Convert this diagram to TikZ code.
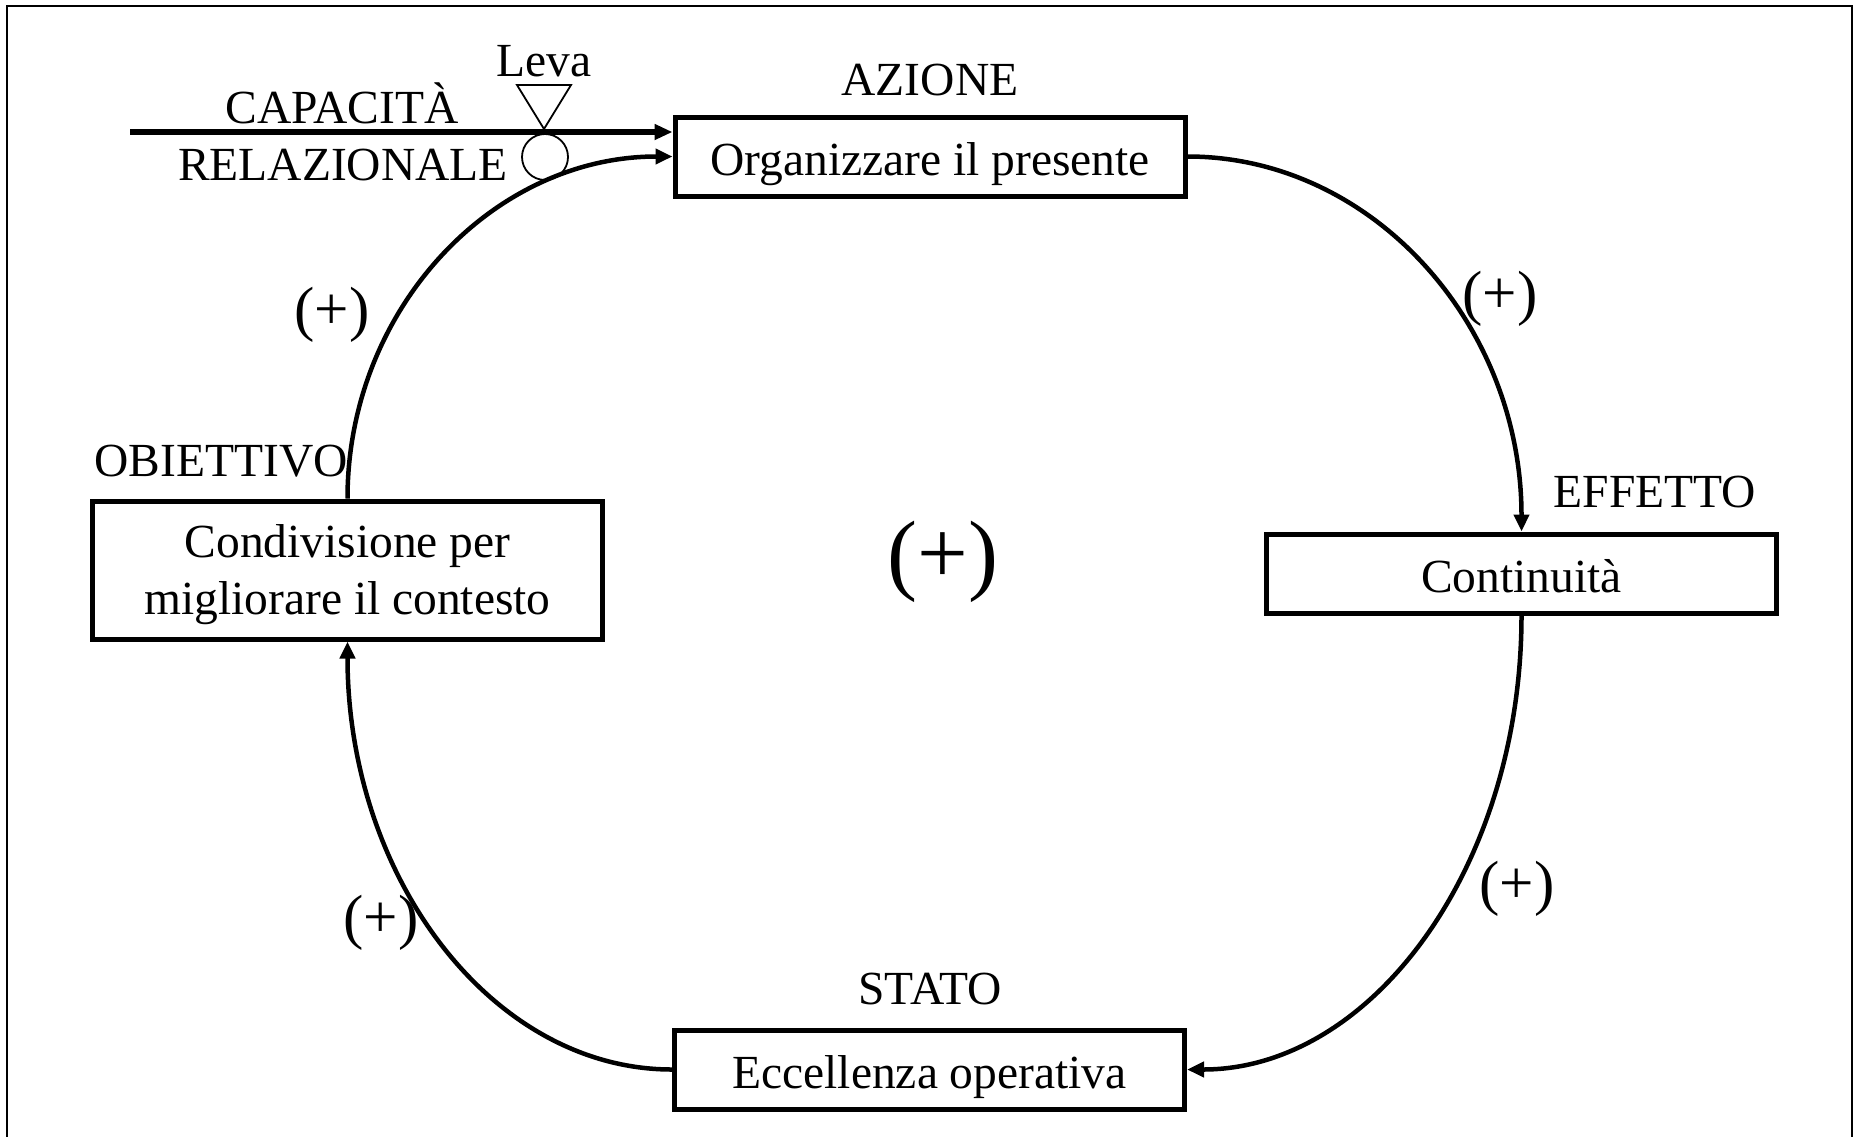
\documentclass[tikz,border=0pt]{standalone}
\usepackage{fontspec}
\setmainfont{Liberation Serif}
\usetikzlibrary{arrows.meta,calc}
\begin{document}
\begin{tikzpicture}[x=1pt,y=-1pt,
  box/.style={draw,line width=5pt,minimum width=510pt,minimum height=79pt,
    inner sep=0pt,align=center,text depth=0pt,font=\fontsize{47.5}{57}\selectfont},
  onebox/.style={box,text height=38pt},
  tag/.style={inner sep=0pt,anchor=base,font=\fontsize{47.5}{57}\selectfont},
  sign/.style={inner sep=0pt,font=\fontsize{61}{70}\selectfont},
  link/.style={line width=4.5pt,-{Triangle[length=17pt,width=15pt]}},
  thin/.style={line width=1.8pt},
]
\useasboundingbox (0,0) rectangle (1857,1136);

% outer frame (open at the bottom)
\draw[line width=2.5pt] (7,1140) -- (7,6) -- (1852,6) -- (1852,1140);

% loop boxes
\node[onebox] (act) at (930,156.5) {Organizzare il presente};
\node[box,minimum height=138pt] (goal) at (347.5,570) {Condivisione per\\migliorare il contesto};
\node[onebox] (eff) at (1521.5,573.5) {Continuità};
\node[onebox] (state) at (929.5,1069.5) {Eccellenza operativa};

% box captions
\node[tag] (lact) at (930,95) {AZIONE};
\node[tag] (lgoal) at (221,476) {OBIETTIVO};
\node[tag] (leff) at (1655,507) {EFFETTO};
\node[tag] (lstate) at (930,1004) {STATO};

% inflow with its lever
\node[tag] (lever) at (544,76) {Leva};
\node[tag] (cap1) at (342,123) {CAPACITÀ};
\node[tag] (cap2) at (343,180) {RELAZIONALE};
\coordinate (src) at (130,132);
\coordinate (valve) at (545,157);
\draw[line width=6pt,-{Triangle[length=18pt,width=15pt]}] (src) -- (src -| act.west);
\draw[thin,fill=white] (517,85) -- (571,85) -- (544,129) -- cycle;
\draw[thin] (valve) ellipse [x radius=23, y radius=23];

% causal links
\draw[link] (goal.north) .. controls +(0,-189) and +(-180,0) .. (act.west);
\draw[link] (act.east) .. controls +(185,0) and +(0,-207) .. (eff.north);
\draw[link] (eff.south) .. controls +(0,251) and +(185,0) .. (state.east);
\draw[link] (state.west) .. controls +(-180,0) and +(0,236) .. (goal.south);

% polarities
\node[sign] (s1) at (332,315) {(+)};
\node[sign] (s2) at (1500,299) {(+)};
\node[sign] (s3) at (1517,889) {(+)};
\node[sign] (s4) at (381,923) {(+)};
\node[inner sep=0pt,font=\fontsize{90}{100}\selectfont] (loop) at (943,562) {(+)};
\end{tikzpicture}
\end{document}
